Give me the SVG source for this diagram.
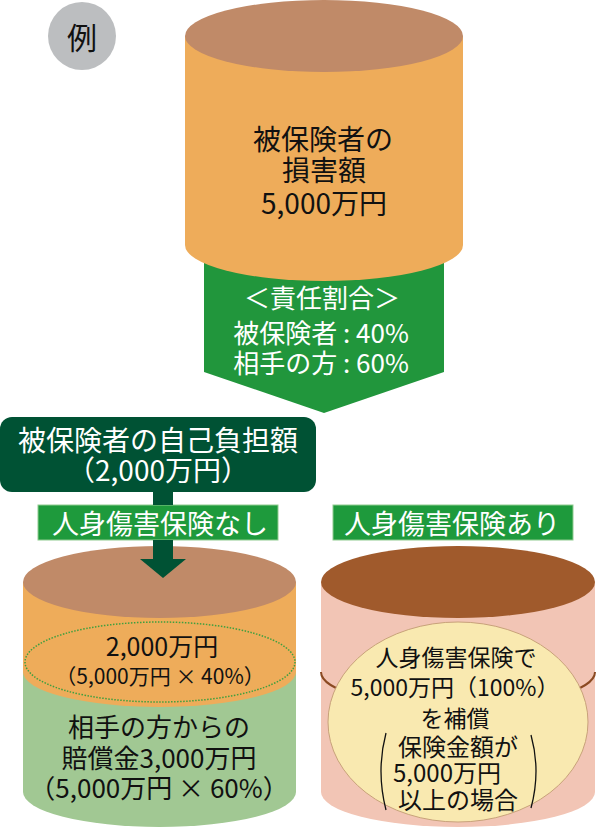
<svg xmlns="http://www.w3.org/2000/svg" width="596" height="828" viewBox="0 0 596 828">
<style>
text{font-family:"Noto Sans CJK JP","Noto Sans",sans-serif;text-anchor:middle;}
.blk{fill:#111;}
.wht{fill:#fff;}
.tan{fill:#c08a68;}
.org{fill:#eeac5a;}
.lbl{fill:#1e9a3c;stroke:#8fcb8f;stroke-width:1;}
.dk{fill:#005234;}
</style>
<rect width="596" height="828" fill="#fff"/>
<g id="example">
<ellipse cx="82" cy="36" rx="34" ry="34" fill="#bcbec0"/>
<text x="82" y="49" font-size="30" class="blk">例</text>
</g>
<g id="ratio-arrow">
<path d="M204,262 L444,262 L444,372 L324,413 L204,372 Z" fill="#21963c"/>
<text x="322" y="308" font-size="26" class="wht">＜責任割合＞</text>
<text x="321" y="343" font-size="26" class="wht">被保険者 : 40%</text>
<text x="321" y="373" font-size="26" class="wht">相手の方 : 60%</text>
</g>
<g id="damage-cylinder">
<path d="M185,36 L185,245 A139,36 0 0 0 463,245 L463,36 Z" class="org"/>
<ellipse cx="324" cy="36" rx="139" ry="36" class="tan"/>
<text x="323" y="150" font-size="28" class="blk">被保険者の</text>
<text x="324" y="181" font-size="28" class="blk">損害額</text>
<text x="324" y="214" font-size="28" class="blk">5,000万円</text>
</g>
<g id="self-burden">
<rect x="0" y="417" width="316" height="75" rx="12" class="dk"/>
<text x="158" y="451" font-size="28" class="wht">被保険者の自己負担額</text>
<text x="158" y="481" font-size="28" class="wht">（2,000万円）</text>
</g>
<g id="label-none">
<rect x="38" y="505" width="240" height="35" class="lbl"/>
<text x="160" y="534" font-size="27" class="wht">人身傷害保険なし</text>
</g>
<g id="label-with">
<rect x="333" y="505" width="240" height="35" class="lbl"/>
<text x="452" y="534" font-size="27" class="wht">人身傷害保険あり</text>
</g>
<g id="cylinder-none">
<path d="M23,582 L23,792 A136.5,35 0 0 0 296,792 L296,582 Z" fill="#a1c893"/>
<path d="M23,582 L23,672 A136.5,35 0 0 0 296,672 L296,582 Z" class="org"/>
<ellipse cx="159.5" cy="582" rx="136.5" ry="36" class="tan"/>
<ellipse cx="160" cy="662" rx="135" ry="40" fill="none" stroke="#3f9f3f" stroke-width="1.5" stroke-dasharray="1.5 1.5"/>
<text x="162" y="656" font-size="25" class="blk">2,000万円</text>
<text x="160" y="684" font-size="21" class="blk">（5,000万円 × 40%）</text>
<text x="159" y="737" font-size="26" class="blk">相手の方からの</text>
<text x="159" y="768" font-size="26" class="blk">賠償金3,000万円</text>
<text x="159" y="798" font-size="26" class="blk">（5,000万円 × 60%）</text>
</g>
<g id="cylinder-with">
<path d="M321,582 L321,792 A137,35 0 0 0 595,792 L595,582 Z" fill="#f2c5b5"/>
<path d="M321,672 A137,35 0 0 0 595,672" fill="none" stroke="#8b4a22" stroke-width="2"/>
<ellipse cx="458" cy="582" rx="137" ry="36" fill="#a05a2c"/>
<ellipse cx="458" cy="722" rx="130" ry="100" fill="#f9e9b0" stroke="#c8a27a" stroke-width="1"/>
<text x="456" y="666" font-size="23" class="blk">人身傷害保険で</text>
<text x="455" y="696" font-size="23" class="blk">5,000万円（100%）</text>
<text x="455" y="727" font-size="23" class="blk">を補償</text>
<text x="458" y="756" font-size="24" class="blk">保険金額が</text>
<text x="447" y="782" font-size="24" class="blk">5,000万円</text>
<text x="458" y="809" font-size="24" class="blk">以上の場合</text>
<path d="M386,733 Q376,771 386,810" fill="none" stroke="#111" stroke-width="1.3"/>
<path d="M531,735 Q541,771 531,808" fill="none" stroke="#111" stroke-width="1.3"/>
</g>
<g id="connectors">
<rect x="153" y="491" width="20" height="14" class="dk"/>
<rect x="153" y="540" width="20" height="20" class="dk"/>
<path d="M140,559 L186,559 L163,578 Z" class="dk"/>
</g>
</svg>
